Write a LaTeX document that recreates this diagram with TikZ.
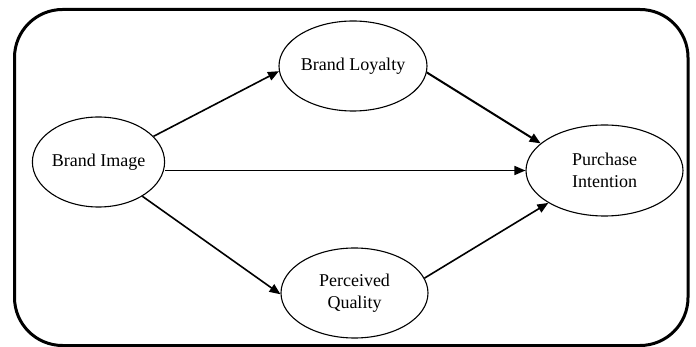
\documentclass[tikz,border=0pt]{standalone}
\usepackage{fontspec}
\setmainfont{Liberation Serif}
\usetikzlibrary{arrows.meta,shapes.geometric}
\begin{document}
\begin{tikzpicture}[x=1pt,y=-1pt,
  construct/.style={draw,ellipse,line width=1.1pt,inner sep=0pt,align=center,
    font=\fontsize{18}{22}\selectfont},
  arr/.style={line width=1.6pt,-{Triangle[length=11pt,width=9pt]}}]
\useasboundingbox (0,0) rectangle (696,347);
\draw[line width=3pt,rounded corners=48pt] (14.5,9.5) rectangle (688,345.5);
\node[construct,minimum width=131pt,minimum height=90pt] (bi) at (98.5,162) {Brand Image};
\node[construct,minimum width=148pt,minimum height=90pt] (bl) at (353,66) {Brand Loyalty};
\node[construct,minimum width=147pt,minimum height=90pt] (pq) at (354.5,293) {Perceived\\Quality};
\node[construct,minimum width=157pt,minimum height=91pt] (pi) at (604.5,170.5) {Purchase\\Intention};
\draw[arr] (bi.25) -- (bl.184);
\draw[arr] (pi.west -| bi.east) -- (pi.west);
\draw[arr] (bi.-38) -- (pq.181);
\draw[arr,line width=2pt] (bl.-5) -- (pi.157);
\draw[arr] (pq.12) -- (pi.210);
\end{tikzpicture}
\end{document}
